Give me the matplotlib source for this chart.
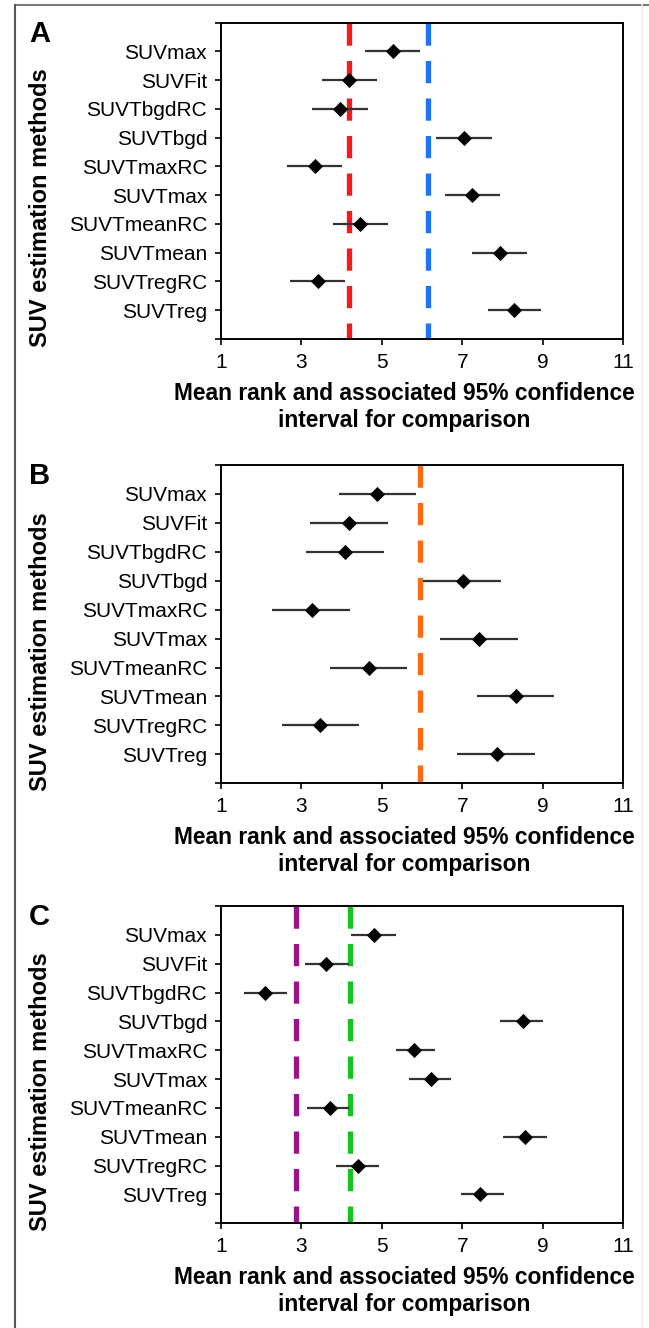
import matplotlib
matplotlib.use('Agg')
import matplotlib.pyplot as plt
from matplotlib.lines import Line2D

plt.rcParams['font.family'] = ['Liberation Sans', 'DejaVu Sans']
plt.rcParams['lines.scale_dashes'] = False

methods = ['SUVmax', 'SUVFit', 'SUVTbgdRC', 'SUVTbgd', 'SUVTmaxRC',
           'SUVTmax', 'SUVTmeanRC', 'SUVTmean', 'SUVTregRC', 'SUVTreg']

# panel A
a_mean = [5.27, 4.19, 3.95, 7.04, 3.34, 7.24, 4.47, 7.93, 3.41, 8.30]
a_lo = [4.57, 3.52, 3.26, 6.35, 2.64, 6.56, 3.78, 7.24, 2.72, 7.63]
a_hi = [5.96, 4.88, 4.65, 7.74, 4.02, 7.93, 5.16, 8.61, 4.09, 8.97]
a_refs = [4.19, 6.14]
a_ref_colors = ['#f51b1b', '#1f74f5']

# panel B
b_mean = [4.88, 4.19, 4.08, 7.01, 3.26, 7.43, 4.67, 8.33, 3.47, 7.86]
b_lo = [3.93, 3.21, 3.11, 6.03, 2.28, 6.45, 3.70, 7.37, 2.51, 6.88]
b_hi = [5.84, 5.16, 5.05, 7.97, 4.21, 8.40, 5.63, 9.28, 4.44, 8.81]
b_refs = [5.94]
b_ref_colors = ['#ff6a10']

# panel C
c_mean = [4.81, 3.62, 2.10, 8.51, 5.79, 6.22, 3.70, 8.56, 4.42, 7.45]
c_lo = [4.24, 3.08, 1.56, 7.93, 5.35, 5.67, 3.13, 8.02, 3.85, 6.98]
c_hi = [5.36, 4.19, 2.65, 9.02, 6.32, 6.72, 4.19, 9.12, 4.93, 8.04]
c_refs = [2.87, 4.21]
c_ref_colors = ['#9c128e', '#12c41e']

xticks = [1, 3, 5, 7, 9, 11]
xlabel = 'Mean rank and associated 95% confidence\ninterval for comparison'
ylabel = 'SUV estimation methods'

W, H = 649, 1328
fig = plt.figure(figsize=(W / 100, H / 100), dpi=100)


def fx(px):
    return px / W


def fy(py):
    return 1 - py / H


panels = [
    ('A', a_mean, a_lo, a_hi, a_refs, a_ref_colors, 22.7, 339.0),
    ('B', b_mean, b_lo, b_hi, b_refs, b_ref_colors, 465.0, 783.3),
    ('C', c_mean, c_lo, c_hi, c_refs, c_ref_colors, 906.0, 1223.3),
]

left_px, right_px = 221, 623

for letter, mean, lo, hi, refs, rcols, top_px, bot_px in panels:
    ax = fig.add_axes([fx(left_px), fy(bot_px), fx(right_px - left_px), (bot_px - top_px) / H])
    ypos = list(range(1, len(methods) + 1))

    for xr, col in zip(refs, rcols):
        ax.plot([xr, xr], [0, 11], color=col, lw=3.8, dashes=(16, 11),
                solid_capstyle='butt', dash_capstyle='butt', zorder=1)

    ax.hlines(ypos, lo, hi, color='#333333', lw=1.6, zorder=2)
    ax.plot(mean, ypos, ls='none', marker='D', ms=7.5, color='black', mew=0.6, zorder=3)

    ax.set_xlim(1, 11)
    ax.set_ylim(11, 0)
    ax.set_xticks(xticks)
    ax.set_xticklabels([str(t) for t in xticks])
    ax.set_yticks(range(0, 12))
    ax.set_yticklabels([''] + methods + [''])
    ax.tick_params(axis='both', direction='out', length=4, width=1.2, labelsize=15, pad=6)
    for sp in ax.spines.values():
        sp.set_linewidth(1.4)

    fig.text(fx(29), fy(top_px + 11), letter, fontsize=21, fontweight='bold',
             ha='left', va='center')
    fig.text(fx(41), fy((top_px + bot_px) / 2 + 27), ylabel, rotation=90,
             fontsize=17, fontweight='bold', ha='center', va='center')
    fig.text(fx(404), fy(bot_px + 68), xlabel, fontsize=16.4, fontweight='bold',
             ha='center', va='center', linespacing=1.2)

# outer frame of the figure
fig.add_artist(Line2D([fx(15), fx(649)], [fy(5), fy(5)], color='#7a7a7a', lw=1.5,
                      transform=fig.transFigure))
fig.add_artist(Line2D([fx(15), fx(15)], [fy(5), fy(1328)], color='#555555', lw=1.5,
                      transform=fig.transFigure))
fig.add_artist(Line2D([fx(642), fx(642)], [fy(5), fy(1328)], color='#eeeeee', lw=1.2,
                      transform=fig.transFigure))

fig.savefig('out.png', dpi=100)
